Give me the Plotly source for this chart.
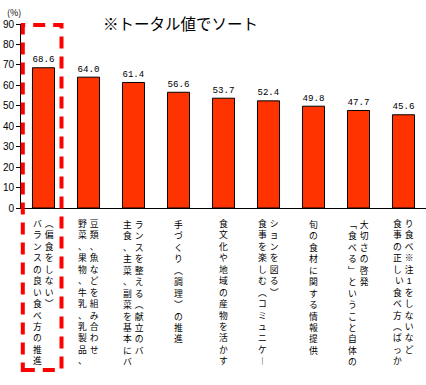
import plotly.graph_objects as go

# ---- data ----
categories = [
    "バランスの良い食べ方の推進（偏食をしない）",
    "野菜、果物、牛乳、乳製品、豆類、魚などを組み合わせ",
    "主食、主菜、副菜を基本にバランスを整える（献立のバ",
    "手づくり（調理）の推進",
    "食文化や地域の産物を活かす",
    "食事を楽しむ（コミュニケーションを図る）",
    "旬の食材に関する情報提供",
    "「食べる」ということ自体の大切さの啓発",
    "食事の正しい食べ方（ばっかり食べ※注1をしないなど",
]
values = [68.6, 64.0, 61.4, 56.6, 53.7, 52.4, 49.8, 47.7, 45.6]
y_ticks = [0, 10, 20, 30, 40, 50, 60, 70, 80, 90]
title_text = "※トータル値でソート"
unit_text = "(%)"
highlight_index = 0

# ---- styling helpers ----
CJK = "Noto Sans CJK JP"
LABEL_FONT = "Liberation Sans, Noto Sans CJK JP"
COL_LEN = 13          # characters per vertical column
COL_SEP = "\u2004"    # narrow space between columns
PAD = "\u3000"        # full-width blank for short columns
vertical_forms = {"（": "︵", "）": "︶", "「": "﹁", "」": "﹂", "ー": "︱"}


def vertical_text(s):
    cols = [s[k:k + COL_LEN] for k in range(0, len(s), COL_LEN)]
    rows = []
    for j in range(len(cols[0])):
        chars = [vertical_forms.get(col[j], col[j]) if j < len(col) else PAD
                 for col in cols]
        rows.append(COL_SEP.join(chars))
    return "<br>".join(rows)


fig = go.Figure()
fig.add_trace(go.Bar(
    x=categories, y=values, width=0.49,
    marker=dict(color="#FF3300", line=dict(color="black", width=1)),
    texttemplate="%{y:.1f}", textposition="outside",
    textfont=dict(family="Liberation Mono", size=11, color="black"),
    cliponaxis=False, hoverinfo="skip",
))

annotations = []
for cat in categories:
    annotations.append(dict(
        x=cat, xref="x", y=0, yref="paper",
        text=vertical_text(cat),
        showarrow=False, xanchor="center", yanchor="top",
        align="center", borderpad=0, yshift=-10,
        font=dict(family=LABEL_FONT, size=8.8, color="black"),
    ))

annotations.append(dict(
    text=title_text, x=0.393, y=1.008, xref="paper", yref="paper",
    showarrow=False, xanchor="center", yanchor="middle",
    font=dict(family=CJK, size=15.5, color="black"),
))
annotations.append(dict(
    text=unit_text, x=-0.0185, y=1.065, xref="paper", yref="paper",
    showarrow=False, xanchor="center", yanchor="middle",
    font=dict(family=CJK, size=9, color="black"),
))

n_cat = len(categories)
fig.add_shape(
    type="rect", xref="paper", yref="paper",
    x0=(highlight_index + 0.04) / n_cat, x1=(highlight_index + 0.90) / n_cat,
    y0=-0.88, y1=0.995,
    line=dict(color="#FF0000", width=4, dash="12px,8px"),
    fillcolor="rgba(0,0,0,0)", layer="above",
)

fig.update_layout(
    width=426, height=385,
    margin=dict(l=21, r=0, t=24, b=177),
    paper_bgcolor="white", plot_bgcolor="white",
    showlegend=False,
    annotations=annotations,
    xaxis=dict(
        type="category", range=[-0.5, n_cat - 0.5],
        showticklabels=False, ticks="", showgrid=False,
        showline=True, linecolor="black", linewidth=1, zeroline=False,
    ),
    yaxis=dict(
        range=[0, 90], tickvals=y_ticks, ticks="outside", ticklen=4,
        tickcolor="black", showgrid=False, zeroline=False,
        showline=True, linecolor="black", linewidth=1,
        tickfont=dict(family="Liberation Sans", size=10, color="black"),
        automargin=False,
    ),
)

fig.write_html("out.html", config={"displayModeBar": False},
               post_script="document.body.style.margin='0px';")
